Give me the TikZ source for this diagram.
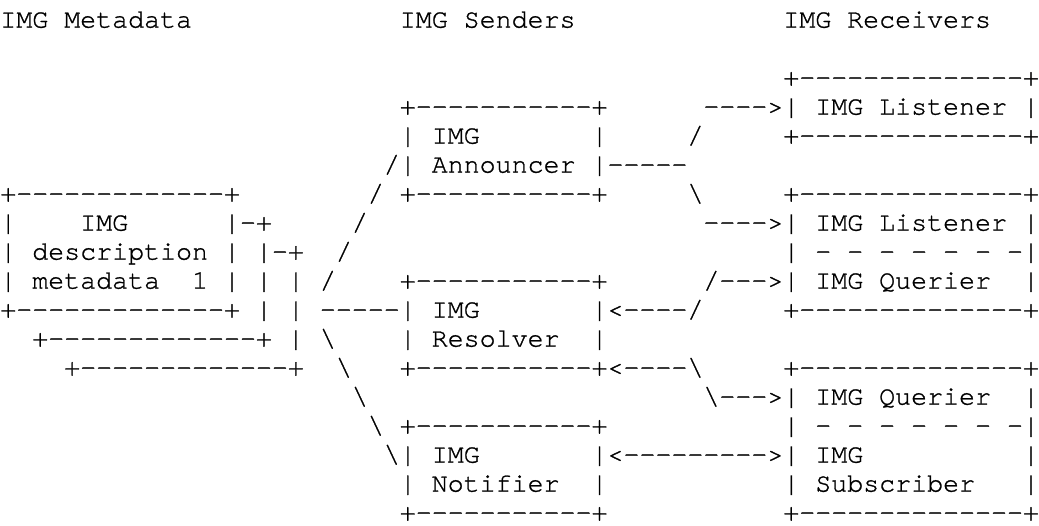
\documentclass[tikz,border=0pt]{standalone}
\usepackage{fontspec}
\setmonofont[Ligatures=CommonOff,FakeBold=1]{texgyrecursor-regular.otf}
\newlength\cw
\setlength\cw{15.98pt}
\newcommand\sk[1]{\hspace*{#1\cw}}
\newcommand\bsl{\textbackslash}
\tikzset{
  asciirow/.style={anchor=base west, inner sep=0pt, outer sep=0pt, text=black,
    text depth=0pt, font=\ttfamily\fontsize{26.633}{29}\selectfont}
}
\begin{document}
\begin{tikzpicture}[x=1pt,y=-1pt]
\useasboundingbox[fill=white] (0,0) rectangle (1039,526);
\def\rowy#1{27.6+29.0*#1}
\def\rowx{0.3}
\node[asciirow] (r0)  at (\rowx,{\rowy{0}})  {IMG Metadata\sk{13}IMG Senders\sk{13}IMG Receivers};
\node[asciirow] (r2)  at (\rowx,{\rowy{2}})  {\sk{49}+--------------+};
\node[asciirow] (r3)  at (\rowx,{\rowy{3}})  {\sk{25}+-----------+\sk{6}---->| IMG Listener |};
\node[asciirow] (r4)  at (\rowx,{\rowy{4}})  {\sk{25}| IMG\sk{7}|\sk{5}/\sk{5}+--------------+};
\node[asciirow] (r5)  at (\rowx,{\rowy{5}})  {\sk{24}/| Announcer |-----};
\node[asciirow] (r6)  at (\rowx,{\rowy{6}})  {+-------------+\sk{8}/ +-----------+\sk{5}\bsl{}\sk{5}+--------------+};
\node[asciirow] (r7)  at (\rowx,{\rowy{7}})  {|\sk{4}IMG\sk{6}|-+\sk{5}/\sk{21}---->| IMG Listener |};
\node[asciirow] (r8)  at (\rowx,{\rowy{8}})  {| description | |-+\sk{2}/\sk{27}| - - - - - - -|};
\node[asciirow] (r9)  at (\rowx,{\rowy{9}})  {| metadata\sk{2}1 | | | /\sk{4}+-----------+\sk{6}/--->| IMG Querier\sk{2}|};
\node[asciirow] (r10) at (\rowx,{\rowy{10}}) {+-------------+ | | -----| IMG\sk{7}|<----/\sk{5}+--------------+};
\node[asciirow] (r11) at (\rowx,{\rowy{11}}) {\sk{2}+-------------+ | \bsl{}\sk{4}| Resolver\sk{2}|};
\node[asciirow] (r12) at (\rowx,{\rowy{12}}) {\sk{4}+-------------+\sk{2}\bsl{}\sk{3}+-----------+<----\bsl{}\sk{5}+--------------+};
\node[asciirow] (r13) at (\rowx,{\rowy{13}}) {\sk{22}\bsl{}\sk{21}\bsl{}--->| IMG Querier\sk{2}|};
\node[asciirow] (r14) at (\rowx,{\rowy{14}}) {\sk{23}\bsl{} +-----------+\sk{11}| - - - - - - -|};
\node[asciirow] (r15) at (\rowx,{\rowy{15}}) {\sk{24}\bsl{}| IMG\sk{7}|<--------->| IMG\sk{10}|};
\node[asciirow] (r16) at (\rowx,{\rowy{16}}) {\sk{25}| Notifier\sk{2}|\sk{11}| Subscriber\sk{3}|};
\node[asciirow] (r17) at (\rowx,{\rowy{17}}) {\sk{25}+-----------+\sk{11}+--------------+};
\end{tikzpicture}
\end{document}
